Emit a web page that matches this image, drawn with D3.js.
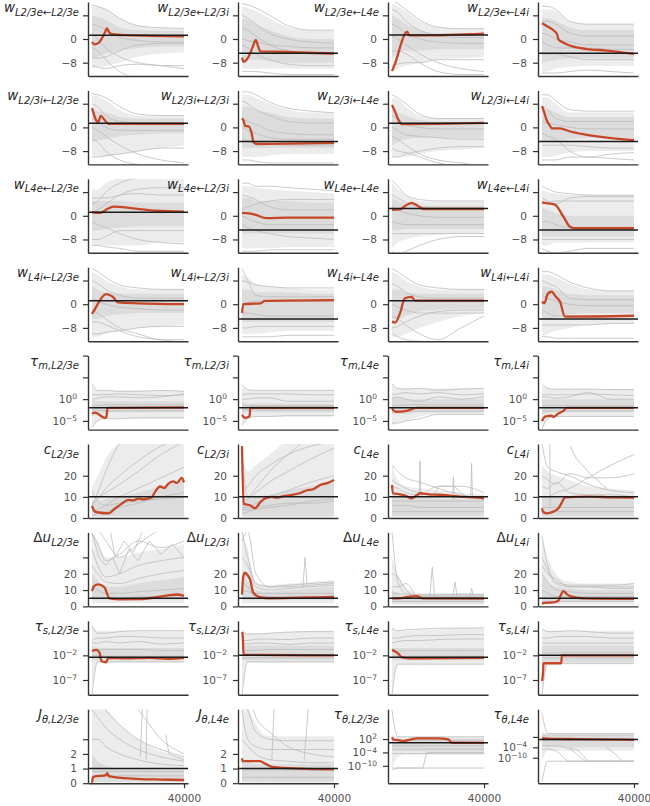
<!DOCTYPE html>
<html><head><meta charset="utf-8">
<script src="https://cdn.jsdelivr.net/npm/d3@7"></script>
<style>
body{margin:0;background:#fff}
svg{display:block}
text{font-family:"DejaVu Sans",sans-serif}
</style>
</head><body>
<svg id="c" width="650" height="806"></svg>
<script>
// ---------------- DATA ----------------
const xGrid = [0, 2500, 6000, 12000, 20000, 30000, 40000];
const xTicks = [40000];
const xTickLabels = ["40000"];

const titles = [
  [["w","L2/3e←L2/3e"],["w","L2/3e←L2/3i"],["w","L2/3e←L4e"],["w","L2/3e←L4i"]],
  [["w","L2/3i←L2/3e"],["w","L2/3i←L2/3i"],["w","L2/3i←L4e"],["w","L2/3i←L4i"]],
  [["w","L4e←L2/3e"],["w","L4e←L2/3i"],["w","L4e←L4e"],["w","L4e←L4i"]],
  [["w","L4i←L2/3e"],["w","L4i←L2/3i"],["w","L4i←L4e"],["w","L4i←L4i"]],
  [["τ","m,L2/3e"],["τ","m,L2/3i"],["τ","m,L4e"],["τ","m,L4i"]],
  [["c","L2/3e"],["c","L2/3i"],["c","L4e"],["c","L4i"]],
  [["Δu","L2/3e"],["Δu","L2/3i"],["Δu","L4e"],["Δu","L4i"]],
  [["τ","s,L2/3e"],["τ","s,L2/3i"],["τ","s,L4e"],["τ","s,L4i"]],
  [["J","θ,L2/3e"],["J","θ,L4e"],["τ","θ,L2/3e"],["τ","θ,L4e"]]
];

const wTicks = [-8, 0, 8];          const wTickLabels = ["−8", "0", ""];
const tauMTicks = [-5, 0, 5, 10];   const tauMTickLabels = ["−5", "0", "", ""];
const cTicks = [0, 10, 20];         const cTickLabels = ["0", "10", "20"];
const duTicks = [0, 10, 20, 30];    const duTickLabels = ["0", "10", "20", ""];
const tauSTicks = [-7, -2, 3];      const tauSTickLabels = ["−7", "−2", ""];
const jTicks = [0, 1, 2, 3];        const jTickLabels = ["0", "1", "2", ""];
const tauThTicks = [-10, -4, 2];
const tauThL23TickLabels = ["−10", "−4", "2"];
const tauThL4TickLabels = ["−10", "−4", ""];

// ---- row 1: w L2/3e <- ...
const refW_L23e = [1.3, -4.8, 1.35, -4.8];
const redW_L23e = [
  [[0,-1],[1000,-1.8],[3000,-1.2],[5500,2],[6500,3.6],[7500,2.2],[9000,1.6],[15000,1.3],[40000,0.9]],
  [[0,-6.3],[700,-7.7],[2500,-6.5],[4500,-3],[6000,-0.3],[7000,-2.5],[8000,-4.2],[15000,-4.3],[40000,-4.9]],
  [[0,-10.8],[1000,-9],[6600,2.5],[7500,1.2],[15000,1.2],[40000,1.8]],
  [[0,5.3],[2000,4.4],[5600,2.5],[6600,1.5],[7200,-0.2],[10000,-1.5],[13600,-2.6],[19400,-3.4],[28000,-3.9],[40000,-5]]
];
const bandW_L23e = [
  [[-10,-9.5,-9,-8,-6,-5,-4.5],[11,11,10,7,4.5,3.7,3.5],[-7,-6,-5,-4,-3,-2.5,-2.5],[8,7.5,6.5,4,3,2.8,2.8]],
  [[-10,-10,-10,-10,-10,-10,-10],[11,10.5,9.5,7,4,3,2.8],[-7,-7,-7,-7.5,-8,-8,-8],[7,6.5,5,3,1,0,0]],
  [[-11,-10,-9,-8,-7,-6.5,-6],[12,11,9.5,6,4,3.5,3.5],[-6,-5,-4,-4,-3.5,-3.5,-3.5],[8,7,5,3,2,2,2]],
  [[-11,-11,-10,-9.5,-9,-9,-9],[10,10,9.5,6,5,5,5],[-8,-7.5,-7,-6.5,-6.5,-6.5,-6.5],[7,7,6,4,3,3,3]]
];
const grayW_L23e = [
  [[11.5,11,10,7,4.5,3.8,3.6],[-3,-4,-7,-11,-13,-13,-13],[-9,-9.5,-10,-9,-8.5,-9,-9],[5,4.5,3,0.5,-0.5,-1,-1],[2,0,-3,-6,-8,-9,-10],[-6,-6.5,-6,-4,-2,-1.5,-1.5]],
  [[12,11.5,10.5,8,4.5,3,3],[-11,-11,-11,-11.5,-12,-12,-12],[4,3,1,-2,-4,-5,-5],[-2,-3,-5,-7,-8.5,-9,-9],[8,7,5,2,0,-1,-1.5],[0,-0.5,-1,-2,-2.5,-3,-3]],
  [[13,12,10,6.5,4,3.5,3.5],[-4,-4,-5,-8,-11,-12,-12],[1,0,-2,-5,-8,-10,-11],[-9,-8.5,-8,-8,-7,-7,-7],[5,4,2,0,-1,-1.5,-1.5],[10,9,6,3,1,0.5,0.5]],
  [[11,11,10,6,5,5,5],[-11.5,-11.5,-11.5,-11,-10.5,-11,-11.5],[2,1.5,0,-1,-2,-2,-2],[-5,-5,-5,-6,-7,-7,-7],[6,6,5,2,1,1,1],[-1,-2,-3,-3,-3,-3.5,-3.5]]
];

// ---- row 2: w L2/3i <- ...
const refW_L23i = [1.4, -4.8, 1.4, -4.8];
const redW_L23i = [
  [[0,6.5],[2700,1.7],[3800,3.9],[5500,2.5],[7100,1.2],[40000,1.2]],
  [[0,3.1],[800,2],[1300,0.5],[3000,0.3],[4200,-2],[5000,-5],[6500,-5.6],[20000,-5.5],[40000,-5.2]],
  [[0,7.6],[1500,5],[2700,2.7],[4200,1.1],[20000,1.2],[40000,1.5]],
  [[0,7.2],[1000,5],[2000,2.5],[3500,0.5],[4200,-0.3],[7800,-0.3],[12000,-1.3],[17900,-2.3],[26500,-3.3],[40000,-4.3]]
];
const bandW_L23i = [
  [[-10,-10,-10,-9,-8,-7,-6],[11,10.5,9,6,4,3.8,3.8],[-5,-4.5,-4,-3,-2.5,-2,-2],[6,5.5,5,3.5,3,3,3]],
  [[-10,-10,-10,-9.5,-9,-9,-9],[11,11,10,8,6,5,5],[-7,-7,-7,-7,-7,-7,-7],[7,7,6,5,3.5,3,3]],
  [[-10,-10,-10,-9,-8,-7.5,-7],[10,9.5,7,4,3,3,3],[-6,-5,-4,-3.5,-3.5,-3.5,-3.5],[6,5,4,2.5,2,2,2]],
  [[-10,-10,-9.5,-8.5,-8,-8,-8],[10,10,8,5,5,5,5],[-5,-5,-4.5,-4,-3.5,-3.5,-3.5],[6,6,5,3.5,3.5,3.5,3.5]]
];
const grayW_L23i = [
  [[11.5,11,10,7,4.5,4,4],[-4,-5,-8,-11,-12.5,-13,-13],[0,-1,-3,-6,-9,-11,-12],[-10,-10,-9.5,-9,-8,-7,-7],[8,7,4,2,1.5,1.5,1.5],[3,2,0,-1,-1,-1,-1]],
  [[12,12,11,8.5,6.5,5.5,5],[-11,-11,-11.5,-12,-12,-12,-12],[3,2,1,-1,-2,-2.5,-2.5],[-4,-4.5,-5,-5.5,-6,-6,-6],[9,8,6,4,2,1.5,1.5],[0,-1,-2,-3.5,-4,-4,-4]],
  [[11,10,8,4.5,3,3,3],[-3,-4,-6,-9,-11,-12,-13],[-7,-8,-8.5,-10,-12,-13,-13],[-10,-10,-9,-8,-7,-6.5,-6.5],[4,3,1,0,-0.5,-0.5,-0.5],[0,-1,-2.5,-3,-3.5,-4,-4]],
  [[11,11,9,6,5.5,5.5,5.5],[-11,-11,-11,-10,-10,-10.5,-11],[2,1.5,1,0,-0.5,-0.5,-0.5],[-6,-6,-6,-6,-6.5,-7,-7],[7,6,3,2,2,2,2],[-2,-3,-4,-8,-10,-9,-8.5]]
];

// ---- row 3: w L4e <- ...
const refW_L4e = [1.2, -4.8, 2.5, -4.8];
const redW_L4e = [
  [[0,1.2],[3500,1],[6500,2.2],[9300,3.1],[18000,2.5],[28000,1.7],[40000,1.4]],
  [[0,1],[3000,0.8],[5600,0.4],[10700,-0.8],[20000,-0.6],[40000,-0.6]],
  [[0,2],[3500,2.2],[6000,3.5],[8500,4.4],[11000,3.5],[13600,2.3],[40000,2.3]],
  [[0,4.5],[2500,4.2],[5600,3.8],[9300,-0.3],[12200,-3.7],[14300,-4.2],[40000,-4.2]]
];
const bandW_L4e = [
  [[-10,-10,-10,-10,-10,-9,-9],[9,9,11,12.5,12.5,12.5,12.5],[-5,-5,-4.5,-4,-3.5,-3.5,-3.5],[5,5,5,5,4.5,4.5,4.5]],
  [[-11,-11,-11,-11,-10.5,-10.5,-10.5],[10,10,9.5,9,8.5,8,7.5],[-6,-6,-6,-6,-6,-6,-6],[6,6,5,5,5,4.5,4.5]],
  [[-11,-9,-8,-7,-6.5,-6,-6],[11,9,7,5,4.8,4.8,4.8],[-5,-5,-4.5,-4.5,-4.5,-4.5,-4.5],[6,5,4,3.5,3.5,3.5,3.5]],
  [[-10,-10,-9,-9,-9,-9,-9],[9,8,7.5,7,7,7,7],[-7,-7,-7,-7,-7,-7,-7],[3,2,1,0,0,0,0]]
];
const grayW_L4e = [
  [[4,5,8,11,13,14,14],[1,2,4,7,9,9.5,9.5],[-2,-3,-4,-6,-8,-9,-9.5],[-8,-8,-7,-5,-5,-5,-5],[-10,-10,-10.5,-11,-12,-12,-12],[6,6,6,7,7.5,7,7]],
  [[11,11,10,10,9.5,9,8.5],[-12,-12,-12,-11.5,-11.5,-11.5,-11.5],[2,3,4,5,5.5,5.5,5.5],[-3,-4,-5,-6,-7,-7.5,-8],[7,6.5,5.5,3,2,2,2],[0,-1,-2,-3,-3,-3,-3]],
  [[12,10,7,5.5,5,5,5],[-12,-13,-12,-10,-8,-7,-7],[3,2,1,0,-0.5,-0.5,-0.5],[-6,-6,-6,-6,-6,-6,-6],[7,6,4.5,3,2.5,2.5,2.5],[-2,-2.5,-3,-3,-3,-3,-3]],
  [[10,9,8,7.5,7,7,7],[4,4.5,5,5,5,5,5],[-11,-12,-12.5,-12,-11,-11,-11],[-2,-2,-3,-4,-4,-4,-4],[6,5,4,6,6.5,6.5,6.5],[-8,-8,-8,-8,-8,-8,-8]]
];

// ---- row 4: w L4i <- ...
const refW_L4i = [1.2, -5, 1.2, -5];
const redW_L4i = [
  [[0,-3.3],[1000,-2],[6100,3.4],[9000,2.5],[11400,0.6],[20000,0.3],[40000,0]],
  [[0,-2.9],[600,0],[8000,0.3],[10000,1.1],[40000,1.4]],
  [[0,-5.9],[1300,-6.2],[3500,-3],[5600,2],[8500,2.5],[10000,1.2],[40000,1.2]],
  [[0,0.9],[1000,0.3],[2500,3.5],[4200,4.2],[6000,2.5],[7800,0.9],[10000,-4.2],[40000,-3.9]]
];
const bandW_L4i = [
  [[-11,-11,-10,-9,-8,-7.5,-7],[11,10,8,6,5,5,5],[-5,-5,-4,-3.5,-3,-3,-3],[6,5,4,3.5,3.5,3.5,3.5]],
  [[-10,-10,-10,-9.5,-9,-9,-9],[10,9,7,6,5.5,5,5],[-6,-6,-6,-6,-6,-6,-6],[5,5,4,4,4,3.5,3.5]],
  [[-11,-11,-10,-8,-6,-4,-3],[11,10,8,6,5,5,5],[-5,-5,-4,-2.5,-2,-1.5,-1.5],[5,5,4,3.5,3.5,3.5,3.5]],
  [[-11,-10,-9,-8,-7,-6.5,-6.5],[10,10,9,7,5,4.5,4.5],[-5,-5,-4.5,-3.5,-3,-3,-3],[6,6,5,3.5,3,3,3]]
];
const grayW_L4i = [
  [[12,11,9,6.5,5.5,5,5],[-6,-6,-7,-9,-11,-12,-13],[-2,-3,-5,-8,-10,-12,-12],[-10,-10,-9.5,-9,-8,-7.5,-7.5],[2,1,0,-1,-1.5,-2,-2],[8,7,5,3,2,2,2]],
  [[12,8,3,2.5,2.5,2.5,2.5],[-11,-11,-11,-11,-10.5,-10.5,-10.5],[8,7.5,6.5,6,5.5,5.5,5.5],[-3,-3,-3.5,-4,-4,-4,-4],[0,0.5,1,1,1,1,1],[-8,-8,-7.5,-7.5,-7.5,-7.5,-7.5]],
  [[12,11,9,6.5,5.5,5,5],[-10,-11,-12,-12.5,-13,-13,-13],[-4,-5,-7,-10,-12,-8,-4],[0,-1,-2,-3,-3,-3,-3],[7,6,4,2.5,2,2,2],[-8,-7.5,-6,-4,-2.5,-2,-2]],
  [[11,11,10,7.5,5.5,4.5,4.5],[-11,-11,-11.5,-11.5,-11.5,-11.5,-11.5],[3,2,1,0,-0.5,-0.5,-0.5],[-7,-7,-7,-7,-7,-6.5,-6.5],[8,7,6,2,1.5,1.5,1.5],[-2,-3,-4,-4,-4,-4,-4]]
];

// ---- row 5: tau_m (log10 values)
const refTauM = [-2, -2, -2, -2];
const redTauM = [
  [[0,-3.3],[1300,-3.1],[5600,-4.3],[6300,-4],[6700,-2],[40000,-1.9]],
  [[0,-3.6],[1300,-4.3],[3300,-3.9],[3600,-2],[40000,-2]],
  [[0,-2.1],[800,-2.7],[2000,-2.9],[6400,-2.7],[10700,-2],[40000,-2]],
  [[0,-5],[1300,-4],[4200,-3.8],[4900,-4.1],[7100,-3.3],[9300,-2.7],[10700,-2],[40000,-2]]
];
const bandTauM = [
  [[-6.5,-5,-4.5,-4.5,-4.5,-4.5,-4.5],[3,2,2,2,2,2,2],[-4,-3.5,-3,-3,-3,-3,-3],[0,-0.5,-0.5,-0.5,-0.5,-0.5,-0.5]],
  [[-6,-4.5,-4,-4,-4,-4,-4],[3,2.2,2,2,2,2,2],[-3.5,-3,-3,-3,-3,-3,-3],[-0.5,-1,-1,-1,-1,-1,-1]],
  [[-6,-5.5,-5,-4,-3.5,-3.5,-3.5],[3.5,2.5,2.5,2.5,2.5,2.5,2.5],[-3.5,-3.5,-3.5,-3,-3,-3,-3],[0.5,0.5,0,0,0,0,0]],
  [[-7,-4.5,-4,-4,-4,-4,-4],[3,2.5,2.3,2.3,2.3,2.3,2.3],[-3.5,-3.2,-3,-3,-3,-3,-3],[0,0,0,0,0,0,0]]
];
const grayTauM = [
  [[3.5,2,2,1.8,1.8,2,1.8],[1,1,1,1.2,1,0.8,1],[-6.5,-5,-4.5,-4.5,-4.3,-4.3,-4.3],[-1.5,-1.5,-1.3,-1.3,-1.3,-1.3,-1.3],[-2.5,-2.5,-2.7,-2.7,-2.7,-2.7,-2.7],[0,0.2,0.5,0.5,0.3,0.5,1.2]],
  [[3.3,2.2,2,2,2,2,2],[1,1.2,1.2,1.2,1.2,1,1],[-6,-4.5,-4,-4,-3.8,-3.8,-3.8],[-1.5,-1.5,-1.5,-1.5,-1.5,-1.5,-1.5],[0,0,0.3,0.3,-0.5,-0.5,-0.5],[-2.5,-2.5,-2.5,-2.5,-2.5,-2.5,-2.5]],
  [[3.5,2.5,2.3,2.5,2,2.3,2.5],[1,1.2,1.5,1.2,1.5,1,1.2],[-5.5,-5.5,-5,-4.5,-3.5,-3.5,-3.5],[-1.5,-1.5,-1.3,-1.3,-1.3,-1.3,-1.3],[-3,-3,-2.8,-2.8,-2.8,-2.8,-2.8],[0,0.5,0,-0.5,0.5,0,0.5]],
  [[3.5,2.5,2.3,2.3,2.3,2.2,2.2],[1,1,1,1,1.2,1,0.8],[-7,-4.5,-4,-4,-4,-4,-4],[-1.5,-1.5,-1.5,-1.5,-1.5,-1.5,-1.5],[-2.7,-2.7,-2.7,-2.7,-2.7,-2.7,-2.7],[0.5,0.5,0.2,0.5,1.5,0,0]]
];

// ---- row 6: c
const refC = [10, 10, 10, 10];
const redC = [
  [[0,5.7],[1300,3],[3000,2.6],[7100,2.2],[10000,4.5],[13000,6.8],[15800,8.6],[18000,8.3],[20000,9.2],[22000,8.8],[23800,9.1],[26000,9.8],[27500,12.5],[29600,14.9],[31500,14.2],[33000,16],[35300,17.3],[37000,16.6],[39000,19],[40000,16.9]],
  [[0,34],[700,6.8],[3500,6],[5600,4.6],[8000,7.5],[10000,9.2],[13000,10],[15000,9.6],[18000,10.3],[21000,10.8],[25000,11.7],[28000,13],[31000,13.6],[34000,15.6],[37000,16.5],[40000,18]],
  [[0,15.6],[400,11.7],[3500,11.2],[6000,10.5],[8500,9.3],[10500,10.5],[12200,11.7],[16000,11.2],[20900,11],[26000,10.5],[31000,10],[36000,9.8],[40000,9.3]],
  [[0,4.6],[400,3],[2000,2.2],[4900,3],[7100,4.6],[8500,7],[10000,9.8],[20000,10.1],[30000,9.8],[40000,9.6]]
];
const bandC = [
  [[0,0,0,0,0,0,0],[15,20,28,35,36,36,36],[1,1,1,1,1,1,1],[8,8,9,10,12,15,18]],
  [[0,0,0,0,0,0,0],[30,22,25,30,36,36,36],[1,1,1,1,1,1,1],[10,9,10,11,13,15,17]],
  [[0,0,0,0,0,0,0],[25,18,15,14,13,12,11],[1,1,1,1,1,1,1],[12,10,10,10,9,9,9]],
  [[0,0,0,0,0,0,0],[25,22,20,18,15,14,13],[1,1,1,1,1,1,1],[10,10,10,10,10,10,10]]
];
const grayC = [
  [[5,12,22,35,40,40,40],[10,10,12,16,22,30,36],[3,4,6,10,14,19,24],[13,8,6,7,8,9,10],[1,2,3,5,7,10,12],[7,9,14,20,27,34,38]],
  [[30,10,14,22,30,38,40],[8,9,12,17,22,28,33],[5,5,7,10,13,17,20],[2,3,4,5,6,8,9],[12,15,20,25,30,34,36],[4,4,5,6,7,7,8]],
  [[25,22,19,17,14,11,9],[15,14,12,11,15,15,12],[6,6,6,5,5,5,5],[3,3,3,3,3,3,3],[18,16,14,12,11,10,9],[8,8,8,8,8,8,8]],
  [[35,24,22,20,16,13,12],[10,10,12,14,19,25,30],[20,18,16,21,19,19,21],[5,5,5,5,5,5,5],[2,2.5,3,3,3,3,3],[15,14,17,12,11,11,10]]
];
const extraC = [
  [],
  [],
  [[[11800,10],[12200,27],[12600,10]],[[26300,9],[26700,19.5],[27100,9]],[[34200,9],[34600,25.8],[35000,9]],[[18000,11],[20400,15],[27000,15],[29000,13],[32000,10]]],
  [[[12200,34],[15000,28],[20000,22],[24000,18],[28000,14]],[[3400,35],[3500,5]]]
];

// ---- row 7: delta u
const refDu = [5, 5, 5, 5];
const redDu = [
  [[0,9.4],[1000,12.5],[2700,13.5],[4500,12.6],[5600,11.4],[6500,8],[7500,4.9],[12200,4.3],[20900,4.4],[28000,5.6],[33000,6.8],[36800,7.3],[40000,6.5]],
  [[0,7.3],[500,18],[1300,20.6],[2500,19],[3500,16.5],[4900,8.4],[7800,5.7],[12000,5],[25000,5.3],[40000,5.8]],
  [[0,4.9],[4000,5.1],[7100,5.8],[10700,6.3],[13600,4.9],[40000,4.8]],
  [[0,1.6],[1000,2.2],[4900,2.5],[7100,3.5],[8200,7],[9300,9.4],[10800,7.5],[12200,6.3],[17900,4.9],[40000,4.6]]
];
const bandDu = [
  [[2,2,2,2,2,2,2],[45,40,30,30,33,35,38],[4,4,4,4,4,4,4],[20,16,12,12,14,16,18]],
  [[2,2,2,2,2,2,2],[45,35,15,13,14,15,16],[4,4,4,4,4,4,4],[20,15,10,9,10,11,12]],
  [[1,1,1,1,1,1,1],[30,20,12,8,8,8,8],[2,2,2,2,2,2,2],[10,8,6,6,6,6,6]],
  [[1,1,1,1,1,1,1],[40,30,20,15,14,14,14],[3,3,3,3,3,3,3],[20,15,12,11,10,10,10]]
];
const grayDu = [
  [[45,38,28,32,40,36,40],[35,25,18,20,25,28,30],[25,20,15,14,17,20,22],[12,10,8,8,9,10,11],[46,46,40,30,38,46,46],[6,5,5,5,6,6,7]],
  [[46,30,14,12,13,14,15],[30,25,12,10,11,12,13],[40,46,20,12,12,13,14],[10,9,8,8,8,8,8],[15,12,6,6,6,6,6],[5,5,5,5,5,5,5]],
  [[46,15,8,7,7,7,7],[20,18,10,6,6,6,6],[12,12,14,5,5,5,5],[3,3,3,3,3,3,3],[8,8,7,7,7,7.5,7],[5,5,5,4.5,4.5,4.5,4.5]],
  [[43,25,15,13,13,13,14],[30,22,14,12,12,11,11],[20,15,10,9,8,8,8],[10,8,6,6,6,6,6],[3,3,3,3,3,3,3],[25,20,17,12,12,12,12]]
];
const extraDu = [
  [[[0,45],[3000,30],[6000,25],[9000,30],[12000,20],[16000,35],[20000,28],[25000,40],[30000,32],[35000,38],[40000,30]],[[8000,46],[10000,30],[14000,40],[18000,33],[22000,46]]],
  [[[26500,12],[27400,30],[28300,13]]],
  [[[16500,6],[17500,24],[18500,6]],[[26500,6],[27400,15],[28300,6]],[[33800,6],[34600,11],[35400,6]]],
  []
];

// ---- row 8: tau_s (log10 values)
const refTauS = [-2.4, -2, -2.4, -2];
const redTauS = [
  [[0,-1.1],[2000,-0.9],[3200,-1.4],[4200,-3.2],[6100,-3.4],[7100,-2.5],[15000,-2.6],[25000,-2.5],[33000,-2.7],[40000,-2.5]],
  [[0,2.7],[300,2],[700,-1.9],[40000,-2]],
  [[0,-0.9],[2000,-1.4],[3200,-1.9],[4200,-2.4],[7800,-2.6],[40000,-2.5]],
  [[0,-7.2],[500,-5],[600,-3.6],[8400,-3.6],[8600,-2],[40000,-2]]
];
const bandTauS = [
  [[-9,-3.5,-3.5,-3.5,-3.5,-3.5,-3.5],[4,3,3,3,3,3,3],[-3,-3,-3,-3,-3,-3,-3],[0,-0.5,-0.5,-0.5,-0.5,-0.5,-0.5]],
  [[-10,-3.5,-3.5,-3.5,-3.5,-3.5,-3.5],[3,2.5,2.5,2.5,2.7,3,3],[-3,-3,-3,-3,-3,-3,-3],[0,0,0,0,0,0,0]],
  [[-10,-3.8,-3.8,-3.8,-3.8,-3.8,-3.8],[3.5,3,3,3.2,3.3,3.5,3.5],[-3,-3,-3,-3,-3,-3,-3],[-0.5,-0.5,-0.5,-0.5,-0.5,-0.5,-0.5]],
  [[-10,-3.8,-3.8,-3.8,-3.8,-3.8,-3.8],[3.5,3,3,3,3,3,3],[-3.3,-3.3,-3.3,-3.3,-3.3,-3.3,-3.3],[0,0,0,0,0,0,0]]
];
const grayTauS = [
  [[4,2.5,2.5,2.8,3,3,3],[1,1.5,1.5,1.8,1.8,1.5,1.5],[-10,-3.3,-3.3,-3.3,-3.3,-3.3,-3.3],[-1,-1,-0.8,-0.8,-0.8,-1,-1],[0.5,0.5,0.8,0.5,0.8,0.3,0.5],[-2,-2,-2.2,-2.2,-2.2,-2.2,-2.2]],
  [[3,2.3,2.3,2.5,2.7,2.8,2.8],[1,1,1.3,1.3,1.2,1.5,1.5],[-10,-3.3,-3.3,-3.3,-3.3,-3.3,-3.3],[-1,-1,-1,-0.8,-0.8,-0.8,-0.8],[0.5,0.3,0.5,0.5,0.2,0.5,0.5],[-2.5,-2.5,-2.5,-2.5,-2.5,-2.5,-2.5]],
  [[3.5,3,3.2,3.3,3.5,3.5,3.6],[1.5,1.5,1.8,2,2,2.2,2.2],[-10,-3.8,-3.8,-3.8,-3.8,-3.8,-3.8],[0.5,0.8,1,1,1.2,1.3,1.3],[-1.2,-1.2,-1,-1,-1,-1,-1],[-2.2,-2.2,-2.2,-2.2,-2.2,-2.2,-2.2]],
  [[3.5,2.8,2.8,3,2.8,2.5,2.5],[1.5,1.5,1.8,1.8,1.8,1.5,1.5],[-10,-3.6,-3.6,-3.6,-3.6,-3.6,-3.6],[0.5,0.5,0.5,0.5,0.5,0.5,0.5],[-1.5,-1.5,-1.5,-1.5,-1.5,-1.5,-1.5],[-2.5,-2.5,-2.5,-2.5,-2.5,-2.5,-2.5]]
];

// ---- row 9: J_theta (linear), tau_theta (log10 values)
const refRow9 = [1, 1, 0.4, 0.5];
const redRow9 = [
  [[0,0],[400,0.4],[2000,0.48],[4900,0.52],[6000,0.55],[6600,0.68],[7200,0.5],[9000,0.43],[14000,0.35],[20900,0.28],[30000,0.25],[40000,0.22]],
  [[0,1.7],[300,1.5],[7800,1.5],[10500,1.3],[13600,1.1],[25000,1.0],[40000,0.95]],
  [[0,2.8],[600,1.8],[2000,1.6],[5000,1.1],[8000,1.8],[10700,2.3],[20100,2.3],[24500,1.85],[26000,0.35],[40000,0.3]],
  [[0,1.3],[2000,1],[10000,0.8],[25000,0.6],[40000,0.3]]
];
const bandRow9 = [
  [[0,0,0,0,0,0,0],[5.1,5.1,5,4,3,2.2,1.8],[0.1,0.1,0.1,0.1,0.1,0.1,0.1],[2,1.5,1.2,1,1,0.9,0.9]],
  [[0,0,0,0,0,0,0],[5.1,5.1,4,3.2,3.2,3.2,3.2],[0.1,0.1,0.1,0.1,0.1,0.1,0.1],[1.5,1.5,1.3,1.3,1.3,1.3,1.3]],
  [[-11,-6,-5,-5,-5,-5,-5],[4,3,3,3,3,3,3],[-3.5,-3.5,-3.5,-3.5,-3.5,-3.5,-3.5],[2,2,2,2,2,2,2]],
  [[-12,-6,-6,-6,-6,-6,-6],[5,4,4,4,4,4,4],[-4,-4,-4,-4,-4,-4,-4],[2.5,2.5,2.5,2.5,2.5,2.5,2.5]]
];
const grayRow9 = [
  [[6,6,5,4,3,2.3,1.8],[5,4.5,3.8,3,2.3,1.8,1.5],[3,3,2.5,2,1.6,1.3,1.2],[0.8,0.8,0.8,0.8,0.8,0.8,0.8],[0.5,0.5,0.5,0.5,0.5,0.5,0.5],[6,6,6,6,5,3,2]],
  [[6,5,3.5,3,2.9,2.9,2.9],[5,3,2.5,2.3,2.3,2.3,2.3],[6,6,4.5,3.5,2.5,2,1.8],[0.9,0.9,0.9,0.9,0.9,0.9,0.9],[0.4,0.4,0.4,0.4,0.4,0.4,0.4],[3,2.5,2,1.6,1.5,1.4,1.4]],
  [[15,3,3,3,3,3,3],[-12,-11,-11,-11,-11,-11,-11],[-1,-1,-1,-1,-1,-1,-1],[-4.5,-4.5,-4.5,-4.5,-4.5,-4.5,-4.5],[1,1.5,1.5,1.5,1.5,1.5,1.5],[-2.5,-2.5,-2.5,-2.5,-2.5,-2.5,-2.5]],
  [[16,4,4,4,4,4,4],[-24,-12,-12,-12,-12,-12,-12],[-5,-5,-6,-12,-12,-12,-12],[0,0,0,0,0,0,0],[-3,-3,-3,-5,-12,-12,-12],[3,3,3,3,3,3,3]]
];
const extraRow9 = [
  [[[21000,1.8],[22000,5.5]],[[23500,1.6],[24000,5.5]],[[32000,3.3],[33500,2],[40000,1.6]]],
  [[[13000,1.6],[14000,5.5]],[[27000,1.5],[29000,5.5]]],
  [[[0,-11],[1000,-11],[12000,-11],[13500,-11],[15000,-4],[40000,-4]]],
  [[[12000,-4],[16000,-6],[20000,-12]],[[28000,-4],[32000,-8],[35000,-12]]]
];

// ---------------- LAYOUT / STYLE ----------------
const colX = [88, 238, 388, 538];
const rowTop = d3.range(9).map(i => 2 + i * 88.4);
const panelH = 74, panelW = 100;
const RED = "#c64727", GRAY = "#bdbdbd", SPINE = "#333333";

const wSpec = {log:false, domain:[-12.5,12.5], ticks:wTicks, labels:wTickLabels};
const rowSpecs = [
  [wSpec,wSpec,wSpec,wSpec],[wSpec,wSpec,wSpec,wSpec],[wSpec,wSpec,wSpec,wSpec],[wSpec,wSpec,wSpec,wSpec],
  Array(4).fill({log:true, domain:[-7,10], ticks:tauMTicks, labels:tauMTickLabels}),
  Array(4).fill({log:false, domain:[0,35], ticks:cTicks, labels:cTickLabels}),
  Array(4).fill({log:false, domain:[0,45.3], ticks:duTicks, labels:duTickLabels}),
  Array(4).fill({log:true, domain:[-10,5], ticks:tauSTicks, labels:tauSTickLabels}),
  [{log:false, domain:[0,5.05], ticks:jTicks, labels:jTickLabels},
   {log:false, domain:[0,5.05], ticks:jTicks, labels:jTickLabels},
   {log:true, domain:[-17.8,15.4], ticks:tauThTicks, labels:tauThL23TickLabels},
   {log:true, domain:[-24.7,18], ticks:tauThTicks, labels:tauThL4TickLabels}]
];
const rowData = [
  {ref:refW_L23e, red:redW_L23e, band:bandW_L23e, gray:grayW_L23e, extra:[]},
  {ref:refW_L23i, red:redW_L23i, band:bandW_L23i, gray:grayW_L23i, extra:[]},
  {ref:refW_L4e, red:redW_L4e, band:bandW_L4e, gray:grayW_L4e, extra:[]},
  {ref:refW_L4i, red:redW_L4i, band:bandW_L4i, gray:grayW_L4i, extra:[]},
  {ref:refTauM, red:redTauM, band:bandTauM, gray:grayTauM, extra:[]},
  {ref:refC, red:redC, band:bandC, gray:grayC, extra:extraC},
  {ref:refDu, red:redDu, band:bandDu, gray:grayDu, extra:extraDu},
  {ref:refTauS, red:redTauS, band:bandTauS, gray:grayTauS, extra:[]},
  {ref:refRow9, red:redRow9, band:bandRow9, gray:grayRow9, extra:extraRow9}
];

const svg = d3.select("#c");
const defs = svg.append("defs");

function drawPanel(r, c) {
  const spec = rowSpecs[r][c], d = rowData[r];
  const x0 = colX[c], top = rowTop[r], bot = top + panelH;
  const x = d3.scaleLinear().domain([-1740, 41740]).range([x0, x0 + panelW]);
  const y = spec.log
    ? d3.scaleLog().domain(spec.domain.map(e => Math.pow(10, e))).range([bot, top])
    : d3.scaleLinear().domain(spec.domain).range([bot, top]);
  const val = spec.log ? v => Math.pow(10, v) : v => v;
  const g = svg.append("g");
  const cid = "clip" + r + "_" + c;
  defs.append("clipPath").attr("id", cid).append("rect")
    .attr("x", x0 + 1).attr("y", top).attr("width", panelW).attr("height", panelH - 0.5);
  const pg = g.append("g").attr("clip-path", `url(#${cid})`);

  const band = d.band[c];
  const area = (lo, hi) => d3.area()
    .x((_, i) => x(xGrid[i])).y0((_, i) => y(val(lo[i]))).y1((_, i) => y(val(hi[i])))
    .curve(d3.curveMonotoneX)(xGrid);
  pg.append("path").attr("d", area(band[0], band[1])).attr("fill", "#ececec");
  pg.append("path").attr("d", area(band[2], band[3])).attr("fill", "#dcdcdc");

  const gl = d3.line().x((_, i) => x(xGrid[i])).y(v => y(val(v))).curve(d3.curveMonotoneX);
  d.gray[c].forEach(arr => {
    pg.append("path").attr("d", gl(arr)).attr("fill", "none")
      .attr("stroke", GRAY).attr("stroke-width", 0.8);
  });
  const pl = d3.line().x(p => x(p[0])).y(p => y(val(p[1])));
  (d.extra[c] || []).forEach(arr => {
    pg.append("path").attr("d", pl(arr)).attr("fill", "none")
      .attr("stroke", GRAY).attr("stroke-width", 0.8);
  });

  // reference (black) line
  g.append("line").attr("x1", x0).attr("x2", x0 + panelW)
    .attr("y1", y(val(d.ref[c]))).attr("y2", y(val(d.ref[c])))
    .attr("stroke", "#1a1a1a").attr("stroke-width", 1.5);

  // red fit line
  pg.append("path").attr("d", pl.curve(d3.curveMonotoneX)(d.red[c]))
    .attr("fill", "none").attr("stroke", RED).attr("stroke-width", 2.3)
    .attr("stroke-linejoin", "round");

  // y axis
  const ya = d3.axisLeft(y).tickValues(spec.ticks.map(val)).tickSize(5).tickSizeOuter(0)
    .tickPadding(6).tickFormat(() => "");
  const ag = g.append("g").attr("transform", `translate(${x0},0)`).call(ya);
  ag.select(".domain").attr("stroke", SPINE).attr("stroke-width", 1.4);
  ag.selectAll(".tick line").attr("stroke", SPINE).attr("stroke-width", 1.2);
  ag.selectAll(".tick text").each(function(_, i) {
    const t = d3.select(this).attr("fill", "#505050").attr("font-size", "10.5px")
      .attr("font-family", "DejaVu Sans");
    const lab = spec.labels[i];
    if (!lab) return;
    if (spec.log) {
      t.append("tspan").text("10");
      t.append("tspan").attr("dy", "-0.5em").attr("font-size", "7.5px").text(lab);
    } else t.text(lab);
  });

  // x axis (bottom spine)
  const isBottom = r === 8;
  const xa = d3.axisBottom(x).tickValues(isBottom ? xTicks : []).tickSize(5).tickSizeOuter(0)
    .tickPadding(6).tickFormat((v, i) => xTickLabels[i]);
  const xg = g.append("g").attr("transform", `translate(0,${bot})`).call(xa);
  xg.select(".domain").attr("stroke", SPINE).attr("stroke-width", 1.4);
  xg.selectAll(".tick line").attr("stroke", SPINE).attr("stroke-width", 1.2);
  xg.selectAll(".tick text").attr("fill", "#505050").attr("font-size", "10.5px")
    .attr("font-family", "DejaVu Sans");

  // title (y label at top-left)
  const [main, sub] = titles[r][c];
  const tt = g.append("text").attr("x", x0 - 9).attr("y", top + 10)
    .attr("text-anchor", "end").attr("fill", "#262626");
  if (main === "Δu") {
    tt.append("tspan").attr("font-size", "13.5px").text("Δ");
    tt.append("tspan").attr("font-size", "13.5px").attr("font-style", "italic").text("u");
  } else {
    tt.append("tspan").attr("font-size", "13.5px").attr("font-style", "italic").text(main);
  }
  tt.append("tspan").attr("font-size", "10px").attr("font-style", "italic").attr("dy", "3.5").text(sub);
}

for (let r = 0; r < 9; r++) for (let c = 0; c < 4; c++) drawPanel(r, c);
</script>
</body></html>
